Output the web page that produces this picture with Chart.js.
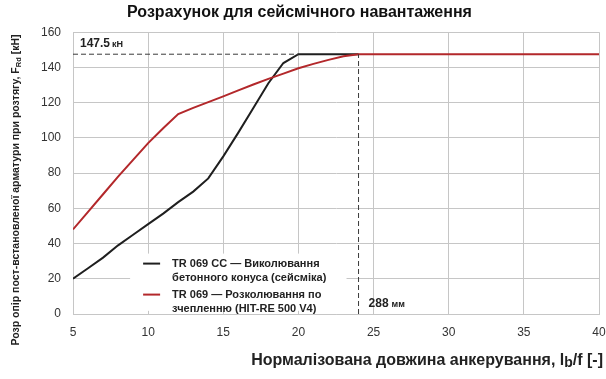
<!DOCTYPE html>
<html>
<head>
<meta charset="utf-8">
<script src="https://cdn.jsdelivr.net/npm/chart.js@4.4.1/dist/chart.umd.min.js"></script>
<style>
  html, body { margin: 0; padding: 0; background: #fff; }
  #box { width: 606px; height: 379px; }
</style>
</head>
<body>
<div id="box"><canvas id="cuadroGrafico"></canvas></div>
<script>

// довжина анкерування lb/f
var xConus = [5, 6, 7, 8, 9, 10, 11, 12, 13, 14, 15, 16, 17, 18, 19, 20, 24];
var yConus = [20, 26, 32, 39, 45, 51, 57, 63.5, 69.5, 77, 89.5, 103, 117, 131, 142.5, 147.5, 147.5];

var xZcheplennya = [5, 6, 7, 8, 9, 10, 11, 12, 13, 14, 15, 16, 17, 18, 19, 20, 21, 22, 23, 24, 40];
var yZcheplennya = [48, 58, 68, 78, 87.5, 97, 105.5, 113.5, 117, 120.3, 123.6, 127, 130.3, 133.5, 136.5, 139.5, 142, 144.3, 146.3, 147.5, 147.5];

var maxSila = 147.5;     // кН
var xMaxSila = 20;
var xDovzhyna = 24;      // 288 мм
var xTicks = [5, 10, 15, 20, 25, 30, 35, 40];
var yTicks = [0, 20, 40, 60, 80, 100, 120, 140, 160];

var nazvy = [
  ['TR 069 CC \u2014 Виколювання', 'бетонного конуса (сейсміка)'],
  ['TR 069 \u2014 Розколювання по', 'зчепленню (HIT-RE 500 V4)']
];

var fontName = '"Liberation Sans", Arial, sans-serif';
var colorNegro = '#1f1f1f';
var colorRojo = '#b3282b';
var colorGrid = '#c6c6c6';

function puntos (xs, ys) {
  var res = [];
  for (var i = 0; i < xs.length; i++) res.push({x: xs[i], y: ys[i]});
  return res;
}

// підписи осей, легенда та позначки
var dibujarExtras = {
  id: 'dibujarExtras',
  beforeDatasetsDraw: function (chart) {
    var ctx = chart.ctx;
    var sx = chart.scales.x, sy = chart.scales.y;
    // легенда на білому тлі
    var lx = sx.getPixelForValue(8.8), ly = sy.getPixelForValue(34.3);
    ctx.save();
    ctx.fillStyle = '#fff';
    ctx.fillRect(lx, ly, sx.getPixelForValue(23.2) - lx, sy.getPixelForValue(1.8) - ly);
    var colores = [colorNegro, colorRojo];
    ctx.font = 'bold 11px ' + fontName;
    ctx.textBaseline = 'middle';
    for (var i = 0; i < nazvy.length; i++) {
      var yy = ly + 10 + i * 31;
      ctx.strokeStyle = colores[i];
      ctx.lineWidth = 2;
      ctx.beginPath();
      ctx.moveTo(lx + 13, yy);
      ctx.lineTo(lx + 30, yy);
      ctx.stroke();
      ctx.fillStyle = '#222';
      ctx.fillText(nazvy[i][0], lx + 42, yy);
      ctx.fillText(nazvy[i][1], lx + 42, yy + 14);
    }
    ctx.restore();
  },
  afterDraw: function (chart) {
    var ctx = chart.ctx;
    var sx = chart.scales.x, sy = chart.scales.y;
    ctx.save();
    ctx.fillStyle = '#222';
    ctx.textBaseline = 'alphabetic';

    // 147.5 кН
    var px = sx.getPixelForValue(5) + 7, py = sy.getPixelForValue(maxSila) - 7;
    ctx.font = 'bold 12px ' + fontName;
    ctx.fillText(maxSila.toFixed(1), px, py);
    var w = ctx.measureText(maxSila.toFixed(1)).width;
    ctx.font = 'bold 9px ' + fontName;
    ctx.fillText('кН', px + w + 2, py);

    // 288 мм
    px = sx.getPixelForValue(xDovzhyna) + 10; py = sy.getPixelForValue(0) - 7;
    ctx.font = 'bold 12px ' + fontName;
    ctx.fillText('288', px, py);
    w = ctx.measureText('288').width;
    ctx.font = 'bold 9px ' + fontName;
    ctx.fillText('мм', px + w + 3, py);

    // назва осі X
    var partes = [['Нормалізована довжина анкерування, l', 16, 0], ['b', 14, 2], ['/f [-]', 16, 0]];
    var total = 0;
    partes.forEach(function (p) { ctx.font = 'bold ' + p[1] + 'px ' + fontName; total += ctx.measureText(p[0]).width; });
    var tx = 603 - total, ty = 365;
    partes.forEach(function (p) {
      ctx.font = 'bold ' + p[1] + 'px ' + fontName;
      ctx.fillText(p[0], tx, ty + p[2]);
      tx += ctx.measureText(p[0]).width;
    });

    // назва осі Y
    var partesY = [['Розр опір пост-встановленої арматури при розтягу, F', 10.5, 0], ['Rd', 7.5, 2], [' [кН]', 10.5, 0]];
    total = 0;
    partesY.forEach(function (p) { ctx.font = 'bold ' + p[1] + 'px ' + fontName; total += ctx.measureText(p[0]).width; });
    ctx.translate(19, 190);
    ctx.rotate(-Math.PI / 2);
    tx = -total / 2;
    partesY.forEach(function (p) {
      ctx.font = 'bold ' + p[1] + 'px ' + fontName;
      ctx.fillText(p[0], tx, p[2]);
      tx += ctx.measureText(p[0]).width;
    });
    ctx.restore();
  }
};

function generarGrafico () {
  var cuadroGrafico = document.getElementById('cuadroGrafico');

  var datosImprimir = {
    datasets: [
      {
        label: 'maxSila',
        data: puntos([5, xMaxSila], [maxSila, maxSila]),
        borderColor: '#3a3a3a',
        borderWidth: 1,
        borderDash: [5, 3],
        pointRadius: 0
      },
      {
        label: 'dovzhyna',
        data: puntos([xDovzhyna, xDovzhyna], [0, maxSila]),
        borderColor: '#3a3a3a',
        borderWidth: 1,
        borderDash: [5, 3],
        pointRadius: 0
      },
      {
        label: nazvy[1].join(' '),
        data: puntos(xZcheplennya, yZcheplennya),
        borderColor: colorRojo,
        borderWidth: 2,
        pointRadius: 0,
        lineTension: 0
      },
      {
        label: nazvy[0].join(' '),
        data: puntos(xConus, yConus),
        borderColor: colorNegro,
        borderWidth: 2,
        pointRadius: 0,
        lineTension: 0
      }
    ]
  };

  var chartOptions = {
    responsive: false,
    animation: false,
    layout: { padding: { left: 0, right: 7, top: 0, bottom: 0 } },
    plugins: {
      legend: { display: false },
      tooltip: { enabled: false },
      title: {
        display: true,
        text: 'Розрахунок для сейсмічного навантаження',
        color: '#111',
        font: { family: fontName, size: 16, weight: 'bold' },
        padding: { top: 3, bottom: 10 }
      }
    },
    scales: {
      x: {
        type: 'linear',
        min: 5, max: 40,
        afterBuildTicks: function (s) { s.ticks = xTicks.map(function (v) { return {value: v}; }); },
        afterFit: function (s) { s.height = 65; s.paddingLeft = 0; s.paddingRight = 0; },
        grid: { color: colorGrid, drawTicks: false },
        border: { color: colorGrid },
        ticks: { color: '#333', padding: 11, font: { family: fontName, size: 12 } }
      },
      y: {
        min: 0, max: 160,
        afterBuildTicks: function (s) { s.ticks = yTicks.map(function (v) { return {value: v}; }); },
        afterFit: function (s) { s.width = 73; s.paddingTop = 0; s.paddingBottom = 0; },
        grid: { color: colorGrid, drawTicks: false },
        border: { color: colorGrid },
        ticks: { color: '#333', padding: 12, font: { family: fontName, size: 12 } }
      }
    }
  };

  var grafico = new Chart(cuadroGrafico, {
    type: 'line',
    data: datosImprimir,
    options: chartOptions,
    plugins: [dibujarExtras]
  });
}

var lienzo = document.getElementById('cuadroGrafico');
lienzo.width = 606;
lienzo.height = 379;
generarGrafico();
</script>
</body>
</html>
